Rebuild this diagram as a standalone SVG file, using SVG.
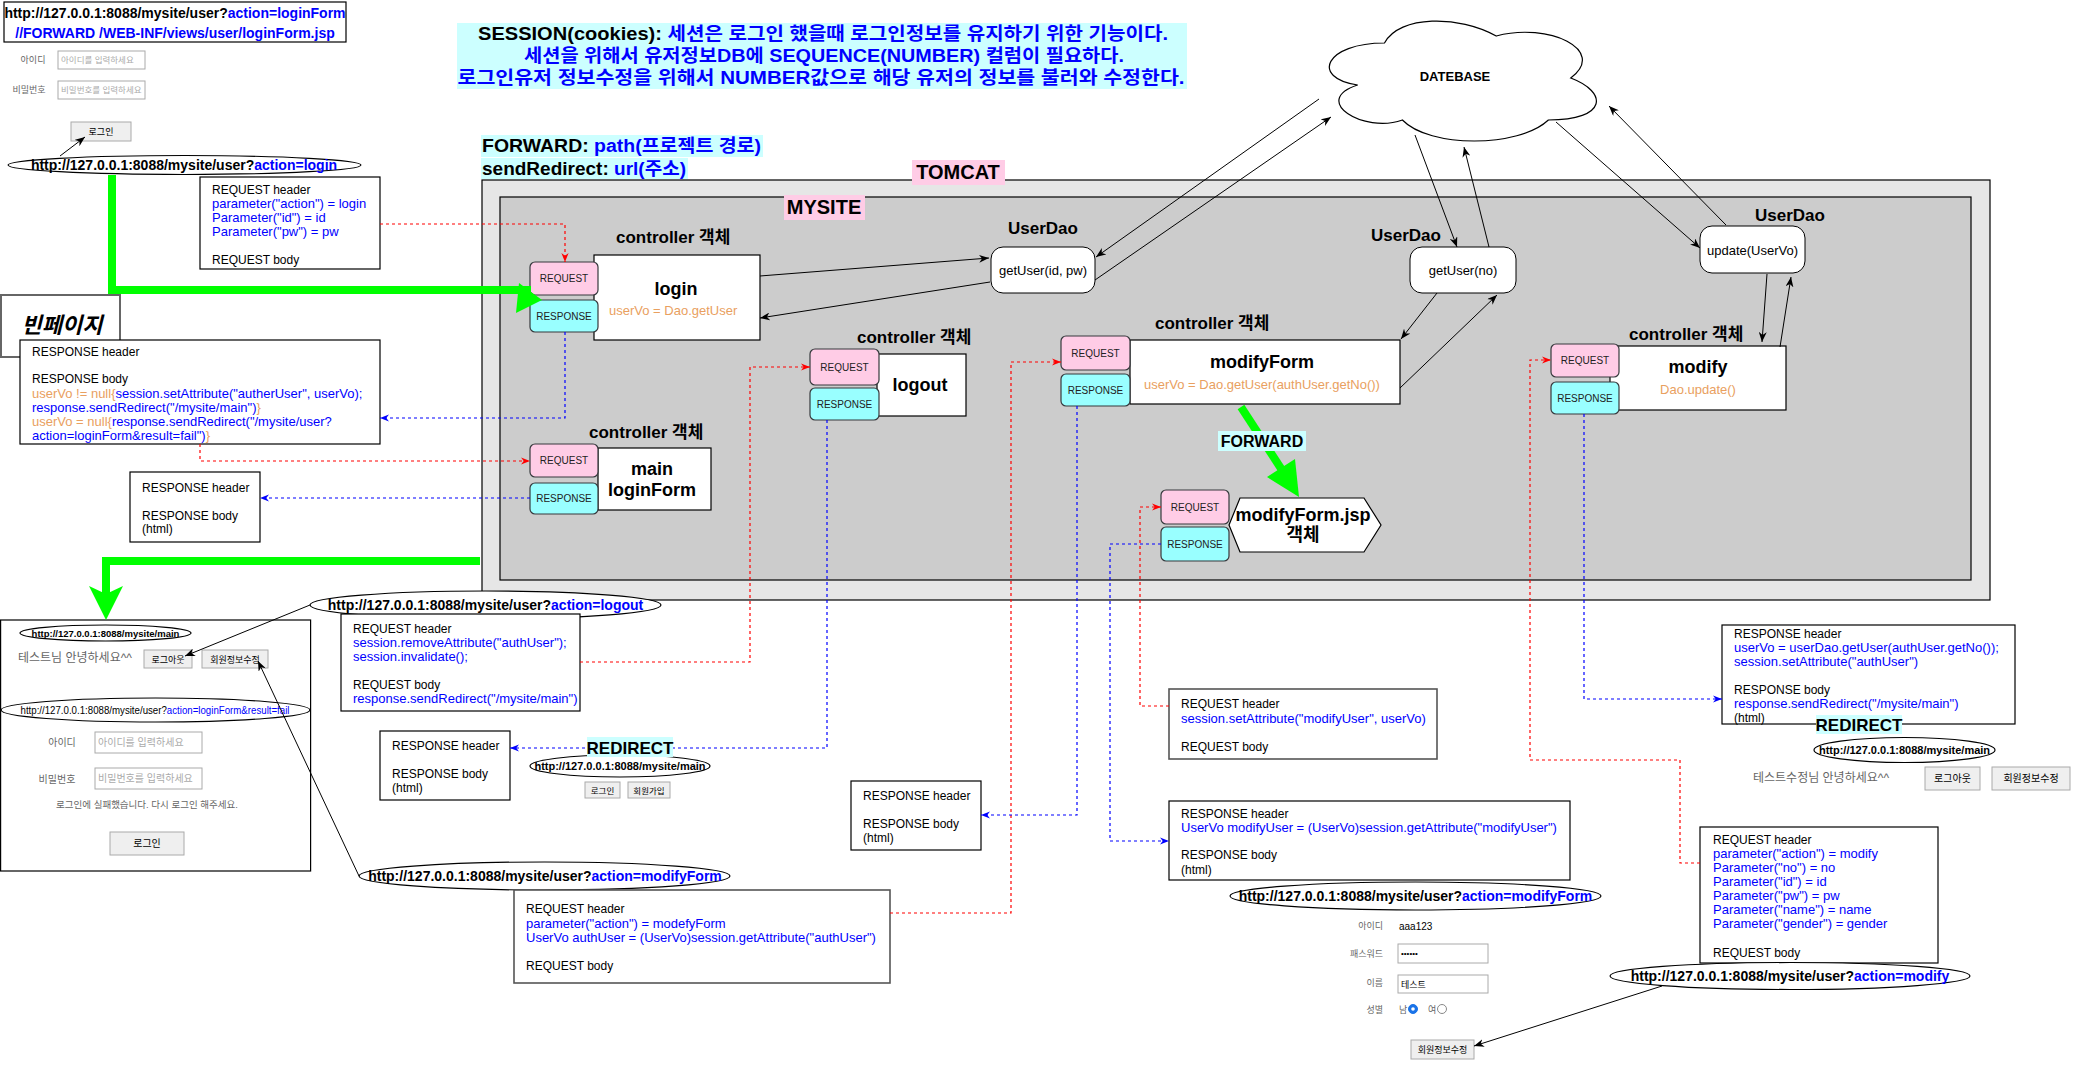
<svg xmlns="http://www.w3.org/2000/svg" width="2080" height="1070" viewBox="0 0 2080 1070">
<defs>
<style>
text{font-family:"Liberation Sans","Noto Sans CJK KR",sans-serif;fill:#000}
.b{font-weight:bold}
.bl{fill:#0000ff}
.or{fill:#E9A060}
.s{font-size:13px}
.h{font-size:12px}
.mid{text-anchor:middle}
.end{text-anchor:end}
.box{fill:#fff;stroke:#000;stroke-width:1.2}
.gbox{fill:#fff;stroke:#555;stroke-width:1.6}
.req{fill:#FFCCE6;stroke:#36393d;stroke-width:1.2}
.resp{fill:#99FFFF;stroke:#36393d;stroke-width:1.2}
.rr{font-size:10px;text-anchor:middle;fill:#222}
.ctl{font-size:17px;font-weight:bold}
.nm{font-size:18px;font-weight:bold;text-anchor:middle}
.dao{fill:#fff;stroke:#000;stroke-width:1}
.ln{stroke:#000;stroke-width:1;fill:none}
.rd{stroke:#ff0000;stroke-width:1.2;stroke-dasharray:3 3;fill:none}
.bd{stroke:#0000ff;stroke-width:1.2;stroke-dasharray:3 3;fill:none}
.gr{stroke:#00ff00;stroke-width:8;fill:none}
.gf{fill:#00ff00}
.btn{fill:#efefef;stroke:#aaa;stroke-width:1}
.inp{fill:#fff;stroke:#aaa;stroke-width:1}
.gt{fill:#666}
.ph{fill:#aaa}
.url{font-weight:bold;font-size:14px;text-anchor:middle}
.ell{fill:#fff;stroke:#000;stroke-width:1.2}
.cyan{fill:#CCFFFF}
.pink{fill:#FFCCE6}
</style>
<marker id="mk" viewBox="0 0 10 8" refX="10" refY="4" markerWidth="10" markerHeight="8" markerUnits="userSpaceOnUse" orient="auto"><path d="M0,0 L10,4 L0,8 L3,4 z" fill="#000"/></marker>
<marker id="mr" viewBox="0 0 10 8" refX="10" refY="4" markerWidth="9" markerHeight="8" markerUnits="userSpaceOnUse" orient="auto"><path d="M0,0 L10,4 L0,8 L3,4 z" fill="#ff0000"/></marker>
<marker id="mb" viewBox="0 0 10 8" refX="10" refY="4" markerWidth="9" markerHeight="8" markerUnits="userSpaceOnUse" orient="auto"><path d="M0,0 L10,4 L0,8 L3,4 z" fill="#0000ff"/></marker>
</defs>
<rect width="2080" height="1070" fill="#fff"/>

<!-- containers -->
<g id="tomcat">
<rect x="482" y="180" width="1508" height="420" fill="#e6e6e6" stroke="#000" stroke-width="1.2"/>
<rect class="pink" x="912" y="160" width="93" height="25"/>
<text class="b mid" font-size="20" x="958" y="179">TOMCAT</text>
</g>
<g id="mysite">
<rect x="500" y="197" width="1471" height="383" fill="#cccccc" stroke="#000" stroke-width="1.2"/>
<rect class="pink" x="784" y="195" width="81" height="25"/>
<text class="b mid" font-size="20" x="824" y="214">MYSITE</text>
</g>

<!-- notes -->
<g id="session-note">
<rect class="cyan" x="457" y="23" width="730" height="66"/>
<text class="b mid" font-size="18" x="823" y="39.5" textLength="690" lengthAdjust="spacingAndGlyphs">SESSION(cookies): <tspan class="bl">세션은 로그인 했을때 로그인정보를 유지하기 위한 기능이다.</tspan></text>
<text class="b mid bl" font-size="18" x="824" y="61.5" textLength="600" lengthAdjust="spacingAndGlyphs">세션을 위해서 유저정보DB에 SEQUENCE(NUMBER) 컬럼이 필요하다.</text>
<text class="b mid bl" font-size="18" x="821" y="83.5" textLength="727" lengthAdjust="spacingAndGlyphs">로그인유저 정보수정을 위해서 NUMBER값으로 해당 유저의 정보를 불러와 수정한다.</text>
</g>
<g id="forward-note">
<rect class="cyan" x="481" y="135" width="282" height="22"/>
<rect class="cyan" x="481" y="158" width="207" height="21"/>
<text class="b" font-size="18" x="482" y="151.5" textLength="279" lengthAdjust="spacingAndGlyphs">FORWARD: <tspan class="bl">path(프로젝트 경로)</tspan></text>
<text class="b" font-size="18" x="482" y="175" textLength="204" lengthAdjust="spacingAndGlyphs">sendRedirect: <tspan class="bl">url(주소)</tspan></text>
</g>

<!-- database -->
<g id="database">
<path d="M1384.5,43 C1324.9,43 1310,78 1357.7,85 C1310,100.4 1363.6,134 1402.4,120 C1429.2,148 1518.6,148 1548.4,120 C1608,120 1608,92 1570.75,78 C1608,50 1548.4,22 1496.25,36 C1459,15 1399.4,15 1384.5,43 Z" fill="#fff" stroke="#000" stroke-width="1.2"/>
<text class="b mid" font-size="13" x="1455" y="81">DATEBASE</text>
</g>

<!-- DAO nodes -->
<g id="dao-getUser-idpw">
<text class="b mid" font-size="17" x="1043" y="234">UserDao</text>
<rect class="dao" x="991" y="247" width="104" height="46" rx="12"/>
<text class="s mid" x="1043" y="275">getUser(id, pw)</text>
</g>
<g id="dao-getUser-no">
<text class="b mid" font-size="17" x="1406" y="241">UserDao</text>
<rect class="dao" x="1410" y="247" width="106" height="46" rx="12"/>
<text class="s mid" x="1463" y="275">getUser(no)</text>
</g>
<g id="dao-update">
<text class="b mid" font-size="17" x="1790" y="221">UserDao</text>
<rect class="dao" x="1700" y="226" width="105" height="47" rx="12"/>
<text class="s mid" x="1752.5" y="255">update(UserVo)</text>
</g>

<!-- controllers -->
<g id="ctl-login">
<text class="ctl" x="616" y="243">controller 객체</text>
<rect class="box" x="594" y="255" width="166" height="85"/>
<rect class="req" x="530" y="262" width="68" height="33" rx="5"/>
<text class="rr" x="564" y="282">REQUEST</text>
<rect class="resp" x="530" y="300" width="68" height="32" rx="5"/>
<text class="rr" x="564" y="320">RESPONSE</text>
<text class="nm" x="676" y="295">login</text>
<text class="s or" x="609" y="315">userVo = Dao.getUser</text>
</g>
<g id="ctl-main">
<text class="ctl" x="589" y="438">controller 객체</text>
<rect class="box" x="598" y="448" width="113" height="62"/>
<rect class="req" x="530" y="444" width="68" height="33" rx="5"/>
<text class="rr" x="564" y="464">REQUEST</text>
<rect class="resp" x="530" y="483" width="68" height="31" rx="5"/>
<text class="rr" x="564" y="502">RESPONSE</text>
<text class="nm" x="652" y="475">main</text>
<text class="nm" x="652" y="496">loginForm</text>
</g>
<g id="ctl-logout">
<text class="ctl" x="857" y="343">controller 객체</text>
<rect class="box" x="877" y="354" width="89" height="62"/>
<rect class="req" x="810" y="349" width="69" height="36" rx="5"/>
<text class="rr" x="844.5" y="371">REQUEST</text>
<rect class="resp" x="810" y="388" width="69" height="32" rx="5"/>
<text class="rr" x="844.5" y="408">RESPONSE</text>
<text class="nm" x="920" y="391">logout</text>
</g>
<g id="ctl-modifyForm">
<text class="ctl" x="1155" y="329">controller 객체</text>
<rect class="box" x="1130" y="340" width="270" height="64"/>
<rect class="req" x="1061" y="336" width="69" height="34" rx="5"/>
<text class="rr" x="1095.5" y="357">REQUEST</text>
<rect class="resp" x="1061" y="374" width="69" height="32" rx="5"/>
<text class="rr" x="1095.5" y="394">RESPONSE</text>
<text class="nm" x="1262" y="368">modifyForm</text>
<text class="s or mid" x="1262" y="388.5">userVo = Dao.getUser(authUser.getNo())</text>
</g>
<g id="jsp-modifyForm">
<polygon points="1240,498 1364,498 1381,525 1364,552 1240,552 1229,525" fill="#fff" stroke="#000" stroke-width="1.2"/>
<rect class="req" x="1161" y="490" width="68" height="34" rx="5"/>
<text class="rr" x="1195" y="511">REQUEST</text>
<rect class="resp" x="1161" y="527" width="68" height="34" rx="5"/>
<text class="rr" x="1195" y="548">RESPONSE</text>
<text class="nm" x="1303" y="521">modifyForm.jsp</text>
<text class="nm" x="1303" y="541">객체</text>
</g>
<g id="ctl-modify">
<text class="ctl" x="1629" y="340">controller 객체</text>
<rect class="box" x="1610" y="346" width="176" height="64"/>
<rect class="req" x="1551" y="344" width="68" height="33" rx="5"/>
<text class="rr" x="1585" y="364">REQUEST</text>
<rect class="resp" x="1551" y="382" width="68" height="32" rx="5"/>
<text class="rr" x="1585" y="402">RESPONSE</text>
<text class="nm" x="1698" y="373">modify</text>
<text class="s or mid" x="1698" y="393.5">Dao.update()</text>
</g>

<!-- top-left: login form page -->
<g id="url-loginForm">
<rect class="box" x="4" y="2" width="342" height="40"/>
<text class="b mid" font-size="14" x="175" y="18">http://127.0.0.1:8088/mysite/user?<tspan class="bl">action=loginForm</tspan></text>
<text class="b mid bl" font-size="14" x="175" y="38">//FORWARD /WEB-INF/views/user/loginForm.jsp</text>
</g>
<g id="page-loginForm">
<text class="gt mid" font-size="9" x="33" y="63">아이디</text>
<rect class="inp" x="58" y="51" width="87" height="18"/>
<text class="ph" font-size="8.5" x="61" y="63">아이디를 입력하세요</text>
<text class="gt mid" font-size="9" x="29" y="93">비밀번호</text>
<rect class="inp" x="58" y="81" width="87" height="18"/>
<text class="ph" font-size="8.5" x="61" y="93">비밀번호를 입력하세요</text>
<rect class="btn" x="71" y="122" width="60" height="19"/>
<text class="mid" font-size="9" x="101" y="135">로그인</text>
</g>
<g id="url-login">
<ellipse class="ell" cx="184.5" cy="165" rx="176.5" ry="9.5"/>
<text class="url" x="184" y="170">http://127.0.0.1:8088/mysite/user?<tspan class="bl">action=login</tspan></text>
</g>
<g id="req-login">
<rect class="box" x="200" y="177" width="180" height="92"/>
<text class="h" x="212" y="193.5">REQUEST header</text>
<text class="s bl" x="212" y="207.5">parameter("action") = login</text>
<text class="s bl" x="212" y="221.5">Parameter("id") = id</text>
<text class="s bl" x="212" y="235.5">Parameter("pw") = pw</text>
<text class="h" x="212" y="263.5">REQUEST body</text>
</g>
<g id="blank-page">
<rect x="1" y="295" width="119" height="62" fill="#fff" stroke="#666" stroke-width="2"/>
<text class="b mid" font-size="22" font-style="italic" x="62" y="333">빈페이지</text>
</g>
<g id="resp-login">
<rect class="box" x="20" y="340" width="360" height="104"/>
<text class="h" x="32" y="355.5">RESPONSE header</text>
<text class="h" x="32" y="382.5">RESPONSE body</text>
<text class="s" x="32" y="397.5"><tspan class="or">userVo != null{</tspan><tspan class="bl">session.setAttribute("autherUser", userVo);</tspan></text>
<text class="s" x="32" y="411.5"><tspan class="bl">response.sendRedirect("/mysite/main")</tspan><tspan class="or">}</tspan></text>
<text class="s" x="32" y="425.5"><tspan class="or">userVo = null{</tspan><tspan class="bl">response.sendRedirect("/mysite/user?</tspan></text>
<text class="s" x="32" y="439.5"><tspan class="bl">action=loginForm&amp;result=fail")</tspan><tspan class="or">}</tspan></text>
</g>
<g id="resp-main">
<rect class="box" x="130" y="472" width="130" height="70"/>
<text class="h" x="142" y="491.5">RESPONSE header</text>
<text class="h" x="142" y="519.5">RESPONSE body</text>
<text class="h" x="142" y="532.5">(html)</text>
</g>

<!-- bottom-left browser page -->
<g id="page-main">
<rect class="box" x="0.6" y="620" width="310" height="251"/>
<ellipse class="ell" cx="105.5" cy="633" rx="85.5" ry="8"/>
<text class="b mid" font-size="9.5" x="105.5" y="636.5">http://127.0.0.1:8088/mysite/main</text>
<text class="gt" font-size="12" x="18" y="662">테스트님 안녕하세요^^</text>
<rect class="btn" x="144" y="650" width="48" height="18"/>
<text class="mid" font-size="9" x="168" y="662.5">로그아웃</text>
<rect class="btn" x="202" y="650" width="66" height="18"/>
<text class="mid" font-size="9" x="235" y="662.5">회원정보수정</text>
<ellipse class="ell" cx="155.5" cy="710" rx="154.5" ry="12"/>
<text class="mid" font-size="10" x="155" y="713.5" textLength="269" lengthAdjust="spacingAndGlyphs">http://127.0.0.1:8088/mysite/user?<tspan class="bl">action=loginForm&amp;result=fail</tspan></text>
<text class="gt mid" font-size="10" x="62" y="745.5">아이디</text>
<rect class="inp" x="95" y="732" width="107" height="21"/>
<text class="ph" font-size="10" x="98" y="746">아이디를 입력하세요</text>
<text class="gt mid" font-size="10" x="57" y="782.5">비밀번호</text>
<rect class="inp" x="95" y="768" width="107" height="21"/>
<text class="ph" font-size="10" x="98" y="782">비밀번호를 입력하세요</text>
<text class="gt mid" font-size="9.5" x="147" y="807.5">로그인에 실패했습니다. 다시 로그인 해주세요.</text>
<rect class="btn" x="110" y="832" width="74" height="23"/>
<text class="mid" font-size="10" x="147" y="847">로그인</text>
</g>

<!-- logout flow -->
<g id="url-logout">
<ellipse class="ell" cx="485.5" cy="605" rx="175.5" ry="14"/>
<text class="url" x="485.5" y="610">http://127.0.0.1:8088/mysite/user?<tspan class="bl">action=logout</tspan></text>
</g>
<g id="req-logout">
<rect class="box" x="341" y="614" width="239" height="97"/>
<text class="h" x="353" y="632.5">REQUEST header</text>
<text class="s bl" x="353" y="646.5">session.removeAttribute("authUser");</text>
<text class="s bl" x="353" y="660.5">session.invalidate();</text>
<text class="h" x="353" y="688.5">REQUEST body</text>
<text class="s bl" x="353" y="702.5">response.sendRedirect("/mysite/main")</text>
</g>
<g id="resp-logout">
<rect class="box" x="380" y="731" width="130" height="69"/>
<text class="h" x="392" y="749.5">RESPONSE header</text>
<text class="h" x="392" y="777.5">RESPONSE body</text>
<text class="h" x="392" y="791.5">(html)</text>
</g>
<g id="page-main-redirect">
<ellipse class="ell" cx="620" cy="766" rx="90" ry="11"/>
<text class="b mid" font-size="11" x="620" y="770">http://127.0.0.1:8088/mysite/main</text>
<rect class="btn" x="585" y="782" width="35" height="16"/>
<text class="mid" font-size="8.5" x="602.5" y="793.5">로그인</text>
<rect class="btn" x="628" y="782" width="42" height="16"/>
<text class="mid" font-size="8.5" x="649" y="793.5">회원가입</text>
</g>

<!-- modifyForm flow -->
<g id="resp-modifyForm">
<rect class="box" x="851" y="781" width="130" height="69"/>
<text class="h" x="863" y="799.5">RESPONSE header</text>
<text class="h" x="863" y="827.5">RESPONSE body</text>
<text class="h" x="863" y="841.5">(html)</text>
</g>
<g id="url-modifyForm">
<ellipse class="ell" cx="544.5" cy="876" rx="185.5" ry="14"/>
<text class="url" x="545" y="881">http://127.0.0.1:8088/mysite/user?<tspan class="bl">action=modifyForm</tspan></text>
</g>
<g id="req-modifyForm">
<rect class="gbox" x="514" y="890" width="376" height="93"/>
<text class="h" x="526" y="912.5">REQUEST header</text>
<text class="s bl" x="526" y="927.5">parameter("action") = modefyForm</text>
<text class="s bl" x="526" y="941.5">UserVo authUser = (UserVo)session.getAttribute("authUser")</text>
<text class="h" x="526" y="969.5">REQUEST body</text>
</g>
<g id="req-jsp">
<rect class="gbox" x="1169" y="689" width="268" height="70"/>
<text class="h" x="1181" y="707.5">REQUEST header</text>
<text class="s bl" x="1181" y="722.5">session.setAttribute("modifyUser", userVo)</text>
<text class="h" x="1181" y="750.5">REQUEST body</text>
</g>
<g id="resp-jsp">
<rect class="box" x="1169" y="801" width="401" height="79"/>
<text class="h" x="1181" y="817.5">RESPONSE header</text>
<text class="s bl" x="1181" y="831.5">UserVo modifyUser = (UserVo)session.getAttribute("modifyUser")</text>
<text class="h" x="1181" y="858.5">RESPONSE body</text>
<text class="h" x="1181" y="873.5">(html)</text>
</g>
<g id="page-modifyForm">
<ellipse class="ell" cx="1415.5" cy="896" rx="185.5" ry="14"/>
<text class="url" x="1415.5" y="901">http://127.0.0.1:8088/mysite/user?<tspan class="bl">action=modifyForm</tspan></text>
<text class="gt end" font-size="9" x="1383" y="929">아이디</text>
<text font-size="10" fill="#333" x="1399" y="929.5">aaa123</text>
<text class="gt end" font-size="9" x="1383" y="957">패스워드</text>
<rect class="inp" x="1398" y="944" width="90" height="19"/>
<text font-size="8" x="1401" y="956">••••••</text>
<text class="gt end" font-size="9" x="1383" y="986">이름</text>
<rect class="inp" x="1398" y="975" width="90" height="18"/>
<text font-size="9" x="1401" y="988">테스트</text>
<text class="gt end" font-size="9" x="1383" y="1013">성별</text>
<text class="gt" font-size="9" x="1399" y="1012.5">남</text>
<circle cx="1413" cy="1009" r="4.5" fill="#1a73e8" stroke="#1a73e8"/>
<circle cx="1413" cy="1009" r="1.8" fill="#fff"/>
<text class="gt" font-size="9" x="1428" y="1012.5">여</text>
<circle cx="1442" cy="1009" r="4.5" fill="#fff" stroke="#888"/>
<rect class="btn" x="1411" y="1040" width="63" height="19"/>
<text class="mid" font-size="9" x="1442.5" y="1053">회원정보수정</text>
</g>

<!-- modify flow -->
<g id="resp-modify">
<rect class="box" x="1722" y="625" width="293" height="99"/>
<text class="h" x="1734" y="637.5">RESPONSE header</text>
<text class="s bl" x="1734" y="651.5">userVo = userDao.getUser(authUser.getNo());</text>
<text class="s bl" x="1734" y="665.5">session.setAttribute("authUser")</text>
<text class="h" x="1734" y="693.5">RESPONSE body</text>
<text class="s bl" x="1734" y="707.5">response.sendRedirect("/mysite/main")</text>
<text class="h" x="1734" y="721.5">(html)</text>
</g>
<g id="page-main-modified">
<ellipse class="ell" cx="1904.5" cy="750" rx="90.5" ry="12.5"/>
<text class="b mid" font-size="11" x="1904.5" y="754">http://127.0.0.1:8088/mysite/main</text>
<text class="gt" font-size="12" x="1753" y="782">테스트수정님 안녕하세요^^</text>
<rect class="btn" x="1925" y="767" width="55" height="23"/>
<text class="mid" font-size="10" x="1952.5" y="782">로그아웃</text>
<rect class="btn" x="1992" y="767" width="78" height="23"/>
<text class="mid" font-size="10" x="2031" y="782">회원정보수정</text>
</g>
<g id="req-modify">
<rect class="box" x="1700" y="827" width="238" height="136"/>
<text class="h" x="1713" y="843.5">REQUEST header</text>
<text class="s bl" x="1713" y="857.5">parameter("action") = modify</text>
<text class="s bl" x="1713" y="871.5">Parameter("no") = no</text>
<text class="s bl" x="1713" y="885.5">Parameter("id") = id</text>
<text class="s bl" x="1713" y="899.5">Parameter("pw") = pw</text>
<text class="s bl" x="1713" y="913.5">Parameter("name") = name</text>
<text class="s bl" x="1713" y="927.5">Parameter("gender") = gender</text>
<text class="h" x="1713" y="956.5">REQUEST body</text>
</g>
<g id="url-modify">
<ellipse class="ell" cx="1790" cy="976" rx="180" ry="13.5"/>
<text class="url" x="1790" y="981">http://127.0.0.1:8088/mysite/user?<tspan class="bl">action=modify</tspan></text>
</g>

<!-- connectors -->
<g id="connectors">
<g marker-end="url(#mk)" class="ln">
<line x1="760" y1="276" x2="989" y2="258"/>
<line x1="990" y1="282" x2="760" y2="318"/>
<line x1="1319" y1="99" x2="1096" y2="257"/>
<line x1="1095" y1="280" x2="1331" y2="117"/>
<line x1="1415" y1="135" x2="1457" y2="247"/>
<line x1="1489" y1="247" x2="1464" y2="147"/>
<line x1="1437" y1="293" x2="1401" y2="339"/>
<line x1="1400" y1="388" x2="1497" y2="295"/>
<line x1="1556" y1="122" x2="1700" y2="248"/>
<line x1="1726" y1="225" x2="1609" y2="106"/>
<line x1="1767" y1="274" x2="1762" y2="342"/>
<line x1="1780" y1="347" x2="1791" y2="277"/>
<line x1="60" y1="156" x2="85" y2="137"/>
<line x1="310" y1="605" x2="185" y2="656"/>
<line x1="359" y1="876" x2="258" y2="661"/>
<line x1="1662" y1="986" x2="1474" y2="1046"/>
</g>
<g class="rd" marker-end="url(#mr)">
<path d="M380,224 H565 V262"/>
<path d="M200,444 V461 H530"/>
<path d="M580,662 H750 V367 H810"/>
<path d="M890,913 H1011 V362 H1061"/>
<path d="M1169,706 H1140 V507 H1161"/>
<path d="M1700,863 H1680 V760 H1530 V360 H1551"/>
</g>
<g class="bd" marker-end="url(#mb)">
<path d="M565,332 V418 H380"/>
<path d="M530,498 H260"/>
<path d="M827,420 V748 H510"/>
<path d="M1077,406 V815 H981"/>
<path d="M1161,544 H1110 V841 H1169"/>
<path d="M1584,414 V699 H1722"/>
</g>
<path class="gr" d="M112,175 V290 H531"/>
<polygon class="gf" points="542,300 519,283 516,313"/>
<path class="gr" d="M480,561 H106 V595"/>
<polygon class="gf" points="89,586 106,620 123,586 106,594"/>
<line class="gr" x1="1241" y1="407" x2="1282" y2="470"/>
<polygon class="gf" points="1295,459 1299,497 1267,477"/>
<rect class="cyan" x="1218" y="431" width="88" height="20"/>
<text class="b mid" font-size="16" x="1262" y="447">FORWARD</text>
<rect class="cyan" x="587" y="737" width="86" height="20"/>
<text class="b mid" font-size="17" x="630" y="753.5">REDIRECT</text>
<rect class="cyan" x="1816" y="715" width="86" height="19"/>
<text class="b mid" font-size="17" x="1859" y="731">REDIRECT</text>
</g>
</svg>
